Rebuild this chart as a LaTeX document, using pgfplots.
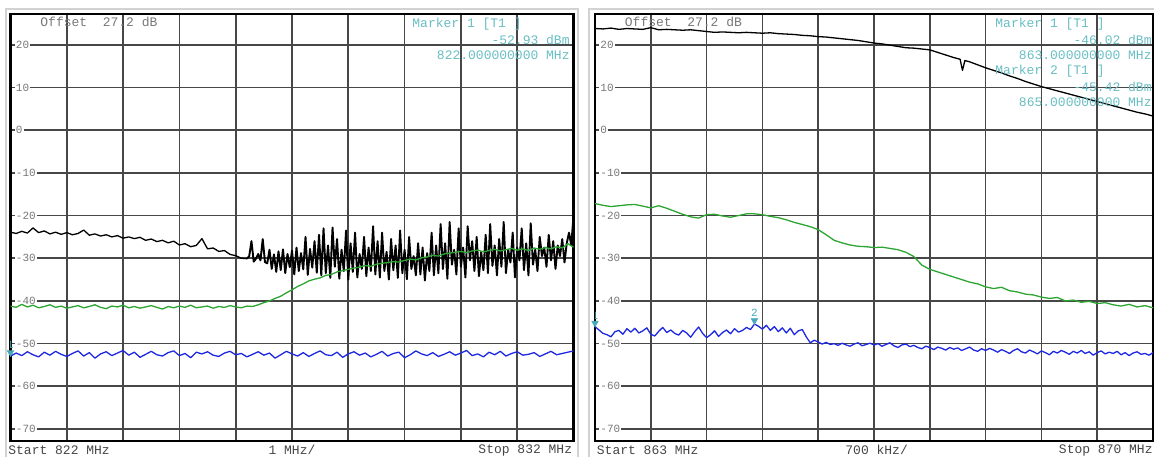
\documentclass[border=0pt]{standalone}
\usepackage{fontspec}
\setmainfont{Liberation Mono}
\usepackage{pgfplots}
\pgfplotsset{compat=1.18}

\definecolor{trgreen}{RGB}{45,165,50}
\definecolor{trblue}{RGB}{30,40,225}
\definecolor{mkteal}{RGB}{70,170,185}
\definecolor{mktext}{RGB}{105,190,195}
\definecolor{lbl}{RGB}{120,120,120}
\definecolor{btm}{RGB}{70,70,70}

\newcommand\scr{\fontsize{6.5}{7}\selectfont}

\pgfplotsset{
  trace/.style={line width=0.65pt, line join=round},
  sa/.style={
    scale only axis, height=213.5pt, anchor=south west,
    ymin=-72.8, ymax=27.2,
    ytick={-70,-60,-50,-40,-30,-20,-10,0,10,20},
    yticklabels={-70,-60,-50,-40,-30,-20,-10,0,10,20},
    ytick pos=left, major tick length=2pt, tick align=inside,
    ytick style={line width=0.5pt, black!70},
    xtick style={draw=none}, xticklabels={},
    grid=major, major grid style={line width=0.85pt, black!72},
    axis line style={line width=1.2pt},
    yticklabel style={anchor=west, xshift=2pt, inner sep=0.5pt, fill=white,
      text=lbl, font=\fontsize{5.5}{6}\selectfont},
  },
}

\begin{document}
\begin{tikzpicture}
% panel frames
\draw[gray!35, line width=1pt] (2.75pt,-2pt) -- (2.75pt,223.5pt) -- (288.75pt,223.5pt) -- (288.75pt,-2pt);
\draw[gray!35, line width=1pt] (294.5pt,-2pt) -- (294.5pt,223.5pt) -- (580pt,223.5pt);

% ---------- 822 - 832 MHz sweep ----------
\begin{axis}[sa, name=L, at={(5.25pt,7.5pt)}, width=281.5pt,
  xmin=822, xmax=832, xtick={822,823,824,825,826,827,828,829,830,831,832}]
% max hold, smooth part
\addplot[black, trace] table[header=false, row sep=\\, x expr=822+0.1*\coordindex, y index=0] {
-23.9\\-24.2\\-23.7\\-24.1\\-22.9\\-24.0\\-23.6\\-24.3\\-23.9\\-24.4\\
-24.0\\-24.5\\-24.2\\-23.4\\-24.6\\-24.3\\-24.8\\-24.5\\-25.0\\-24.7\\
-25.3\\-25.0\\-25.4\\-25.1\\-25.8\\-25.5\\-26.1\\-25.8\\-26.4\\-26.0\\
-26.9\\-26.6\\-27.3\\-27.0\\-25.4\\-27.8\\-27.6\\-28.4\\-28.2\\-29.1\\
-29.4\\-30.0\\-30.1\\
};
% max hold, bursty part
\addplot[black, trace, line width=0.95pt] table[header=false, row sep=\\, x expr=826.2+0.04*\coordindex, y index=0] {
-30.1\\-29.5\\-26.0\\-30.8\\-30.1\\-29.0\\-30.5\\-25.5\\-30.9\\-31.2\\
-28.0\\-32.5\\-29.1\\-33.2\\-28.4\\-32.8\\-27.9\\-33.5\\-29.0\\-32.1\\
-28.2\\-33.8\\-27.5\\-33.0\\-28.8\\-32.6\\-25.0\\-33.9\\-27.8\\-32.2\\
-26.0\\-33.4\\
-24.5\\-34.0\\-23.0\\-33.5\\-27.0\\-34.6\\-22.8\\-32.0\\-25.5\\-34.8\\
-28.0\\-33.0\\-23.5\\-35.0\\-26.5\\-33.2\\-24.0\\-34.5\\-29.0\\-32.5\\
-25.0\\-34.2\\-27.5\\-33.0\\-22.5\\
-33.8\\-26.0\\-34.5\\-24.0\\-33.0\\-28.5\\-35.0\\-25.5\\-32.8\\-27.0\\
-34.6\\-23.5\\-33.5\\-28.0\\-34.9\\-25.0\\-32.5\\-29.5\\-34.0\\-26.5\\
-33.8\\-27.5\\-35.2\\-28.8\\-33.0\\
-24.0\\-34.0\\-27.0\\-33.5\\-22.0\\-32.5\\-26.5\\-34.8\\-21.5\\-31.5\\
-28.0\\-33.8\\-23.0\\-32.0\\-27.5\\-34.5\\-22.5\\-30.5\\-26.0\\-33.0\\
-25.0\\-34.2\\-28.5\\-32.8\\-24.5\\
-33.5\\-22.0\\-31.8\\-27.0\\-34.0\\-25.5\\-32.0\\-21.5\\-33.5\\-28.0\\
-31.0\\-24.0\\-34.5\\-27.5\\-30.5\\-23.0\\-32.8\\-26.5\\-34.0\\-21.8\\
-31.5\\-28.0\\-33.0\\-25.0\\-29.5\\-27.5\\-32.0\\-24.5\\-30.5\\-26.0\\
-32.5\\-27.0\\-29.5\\-25.5\\-31.0\\-26.5\\-24.0\\-27.0\\-20.0\\
};
% average
\addplot[trgreen, trace] table[header=false, row sep=\\, x expr=822+0.1*\coordindex, y index=0] {
-41.2\\-41.5\\-40.8\\-41.4\\-41.0\\-41.6\\-41.3\\-40.9\\-41.5\\-41.2\\
-41.7\\-41.4\\-41.1\\-41.6\\-41.3\\-40.9\\-41.5\\-41.8\\-41.2\\-41.4\\
-41.0\\-41.6\\-41.3\\-41.7\\-41.4\\-41.1\\-41.5\\-41.9\\-41.3\\-41.6\\
-41.2\\-41.5\\-41.0\\-41.6\\-41.4\\-41.2\\-41.7\\-41.3\\-41.5\\-41.1\\
-41.4\\-41.6\\-41.2\\-41.3\\
-40.9\\-40.4\\-40.0\\-39.4\\-38.9\\-38.1\\-37.4\\-36.6\\-36.0\\-35.3\\
-34.9\\-34.6\\-34.0\\-33.8\\-33.2\\-32.9\\-32.6\\-32.3\\-32.1\\-31.7\\
-31.9\\-31.4\\-31.2\\-31.0\\-30.8\\-30.9\\-30.5\\-30.2\\-30.4\\-29.9\\
-29.7\\-29.3\\-29.5\\-29.0\\-28.8\\-28.6\\-28.4\\-28.7\\-28.3\\-28.1\\
-28.5\\-28.2\\-27.9\\-28.3\\-28.0\\-27.7\\-28.1\\-27.8\\-28.2\\-27.6\\
-27.9\\-27.5\\-27.8\\-27.3\\-27.6\\-26.6\\-27.4\\
};
% min hold
\addplot[trblue, trace] table[header=false, row sep=\\, x expr=822+0.1*\coordindex, y index=0] {
-52.93\\-52.2\\-52.8\\-51.9\\-52.6\\-53.1\\-52.0\\-52.7\\-51.8\\-52.5\\
-53.0\\-52.3\\-51.7\\-52.9\\-52.1\\-53.4\\-52.4\\-51.9\\-52.8\\-52.2\\
-51.6\\-52.7\\-52.0\\-53.2\\-52.5\\-51.8\\-52.6\\-52.9\\-52.1\\-51.7\\
-52.8\\-52.3\\-53.3\\-52.0\\-52.4\\-51.9\\-52.7\\-53.0\\-52.2\\-51.8\\
-52.6\\-52.3\\-53.1\\-52.5\\-51.9\\-52.7\\-52.2\\-53.4\\-52.6\\-51.8\\
-52.4\\-52.9\\-52.1\\-53.0\\-52.3\\-51.7\\-52.6\\-52.8\\-52.0\\-53.2\\
-52.4\\-51.9\\-52.7\\-52.2\\-53.1\\-52.5\\-51.8\\-52.9\\-52.3\\-52.0\\
-53.3\\-52.6\\-51.7\\-52.4\\-52.8\\-52.1\\-53.0\\-52.5\\-51.9\\-52.7\\
-52.2\\-51.6\\-52.8\\-52.4\\-53.1\\-52.0\\-52.6\\-51.8\\-52.9\\-52.3\\
-51.9\\-52.7\\-52.5\\-52.1\\-53.0\\-52.4\\-51.8\\-52.6\\-52.3\\-52.0\\
-51.7\\
};
% marker 1
\addplot[only marks, mark=triangle*, mark size=1.8pt, mkteal,
  mark options={yshift=1.8pt, rotate=180}] coordinates {(822,-52.93)}
  node[above, yshift=3pt, text=mkteal, inner sep=0.5pt, font=\fontsize{5.5}{6}\selectfont] {1};
\end{axis}

% ---------- 863 - 870 MHz sweep ----------
\begin{axis}[sa, name=R, at={(297.5pt,7.5pt)}, width=279pt,
  xmin=863, xmax=870,
  xtick={863,863.7,864.4,865.1,865.8,866.5,867.2,867.9,868.6,869.3,870}]
% max hold
\addplot[black, trace] coordinates {
(863.0,23.8) (863.1,23.7) (863.2,23.9) (863.3,23.6) (863.4,23.8) (863.5,23.7) (863.6,23.6) (863.7,24.0) (863.8,23.5) (863.9,23.6)
(864.0,23.5) (864.1,23.4) (864.2,23.5) (864.3,23.3) (864.4,23.1) (864.5,22.9) (864.6,23.0) (864.7,22.9) (864.8,22.8) (864.9,22.9)
(865.0,22.8) (865.1,22.7) (865.2,22.8) (865.3,22.6) (865.4,22.5) (865.5,22.4) (865.6,22.2) (865.7,22.1) (865.8,21.9) (865.9,21.8)
(866.0,21.6) (866.1,21.4) (866.2,21.2) (866.3,21.0) (866.4,20.7) (866.5,20.4) (866.6,20.2) (866.7,19.9) (866.8,19.6) (866.9,19.3)
(867.0,19.2) (867.1,19.0) (867.2,18.8) (867.3,18.2) (867.4,17.6) (867.5,17.0) (867.58,16.6) (867.61,14.0) (867.64,16.3) (867.7,16.0)
(867.8,15.3) (867.9,14.6) (868.0,14.0) (868.1,13.4) (868.2,12.7) (868.3,12.1) (868.4,11.4) (868.5,10.8) (868.6,10.2) (868.7,9.7)
(868.8,9.2) (868.9,8.7) (869.0,8.2) (869.1,7.7) (869.2,7.2) (869.3,6.7) (869.4,6.2) (869.5,5.7) (869.6,5.2) (869.7,4.7)
(869.8,4.2) (869.9,3.8) (870.0,3.3)
};
% average
\addplot[trgreen, trace] table[header=false, row sep=\\, x expr=863+0.1*\coordindex, y index=0] {
-17.2\\-17.6\\-17.9\\-17.7\\-17.5\\-17.4\\-17.8\\-18.2\\-17.7\\-18.3\\
-19.0\\-19.7\\-20.3\\-20.6\\-19.8\\-19.7\\-20.1\\-20.4\\-20.0\\-19.6\\
-19.6\\-19.8\\-20.2\\-20.5\\-21.0\\-21.6\\-22.1\\-22.6\\-23.3\\-24.5\\
-25.8\\-26.4\\-26.9\\-27.2\\-27.3\\-27.5\\-27.4\\-27.7\\-28.0\\-28.6\\
-29.6\\-31.6\\-32.6\\-33.2\\-33.8\\-34.4\\-35.0\\-35.6\\-36.0\\-36.7\\
-37.1\\-36.8\\-37.6\\-37.9\\-38.4\\-38.6\\-39.1\\-39.4\\-39.2\\-40.0\\
-39.8\\-40.3\\-40.1\\-40.6\\-40.4\\-40.9\\-41.2\\-40.8\\-41.4\\-41.1\\
-41.6\\
};
% min hold
\addplot[trblue, trace] table[header=false, row sep=\\, x expr=863+0.05*\coordindex, y index=0] {
-46.02\\-46.8\\-47.6\\-47.9\\-48.4\\-47.2\\-46.9\\-47.8\\-46.5\\-47.3\\
-46.4\\-47.5\\-47.0\\-46.3\\-47.8\\-48.2\\-47.1\\-46.2\\-47.4\\-46.8\\
-47.6\\-48.0\\-46.9\\-47.5\\-48.5\\-47.2\\-46.1\\-47.6\\-48.6\\-47.9\\
-47.0\\-48.3\\-47.4\\-46.8\\-47.7\\-46.5\\-47.3\\-46.9\\-46.2\\-46.7\\
-45.42\\-45.9\\-46.6\\-45.7\\-46.9\\-46.0\\-47.2\\-46.3\\-47.5\\-46.4\\
-47.9\\-47.0\\-46.7\\-48.4\\-49.8\\-49.2\\-49.6\\-50.1\\-49.7\\-50.2\\
-50.0\\-50.4\\-49.9\\-50.3\\-50.6\\-50.1\\-49.8\\-50.5\\-50.2\\-49.9\\
-50.3\\-50.0\\-50.6\\-50.2\\-49.8\\-50.5\\-50.9\\-50.3\\-50.1\\-50.7\\
-50.4\\-50.9\\-51.2\\-50.6\\-50.9\\-51.4\\-50.8\\-51.1\\-51.5\\-50.9\\
-51.3\\-51.0\\-51.6\\-51.2\\-50.8\\-51.5\\-51.8\\-51.2\\-51.6\\-51.1\\
-51.5\\-52.0\\-51.4\\-51.8\\-52.3\\-51.6\\-51.2\\-51.9\\-52.2\\-51.5\\
-51.9\\-52.4\\-51.7\\-52.1\\-52.6\\-51.8\\-52.2\\-51.6\\-52.0\\-52.5\\
-51.8\\-52.2\\-51.6\\-52.3\\-51.9\\-52.7\\-52.1\\-51.7\\-52.4\\-52.0\\
-52.3\\-51.8\\-52.6\\-52.1\\-52.8\\-52.2\\-51.9\\-52.5\\-52.3\\-52.7\\
-52.1\\
};
% markers 1 and 2
\addplot[only marks, mark=triangle*, mark size=1.8pt, mkteal,
  mark options={yshift=1.8pt, rotate=180}] coordinates {(863,-46.02)}
  node[above, yshift=3pt, text=mkteal, inner sep=0.5pt, font=\fontsize{5.5}{6}\selectfont] {1};
\addplot[only marks, mark=triangle*, mark size=1.8pt, mkteal,
  mark options={yshift=1.8pt, rotate=180}] coordinates {(865,-45.42)}
  node[above, yshift=3pt, text=mkteal, inner sep=0.5pt, font=\fontsize{5.5}{6}\selectfont] {2};
\end{axis}

% ---------- screen texts ----------
\begin{scope}[every node/.style={inner sep=0pt, font=\scr}]
\node[anchor=west, text=lbl] at ([xshift=14.75pt, yshift=-4pt]L.north west) {Offset~ 27.2 dB};
\node[anchor=west, text=mktext] at ([xshift=200.75pt, yshift=-5pt]L.north west) {Marker 1 [T1 ]};
\node[anchor=east, text=mktext] at ([xshift=-1.75pt, yshift=-13pt]L.north east) {-52.93 dBm};
\node[anchor=east, text=mktext] at ([xshift=-1.75pt, yshift=-20.5pt]L.north east) {822.000000000 MHz};
\node[anchor=west, text=btm] at ([xshift=-1.25pt, yshift=-4.5pt]L.south west) {Start 822 MHz};
\node[text=btm] at ([yshift=-4.5pt]L.south) {1 MHz/};
\node[anchor=east, text=btm] at ([xshift=-0.5pt, yshift=-4.5pt]L.south east) {Stop 832 MHz};

\node[anchor=west, text=lbl] at ([xshift=14.75pt, yshift=-4pt]R.north west) {Offset~ 27.2 dB};
\node[anchor=west, text=mktext] at ([xshift=-79pt, yshift=-5pt]R.north east) {Marker 1 [T1 ]};
\node[anchor=east, text=mktext] at ([xshift=-0.5pt, yshift=-13pt]R.north east) {-46.02 dBm};
\node[anchor=east, text=mktext] at ([xshift=-0.5pt, yshift=-20.5pt]R.north east) {863.000000000 MHz};
\node[anchor=west, text=mktext] at ([xshift=-79pt, yshift=-28.5pt]R.north east) {Marker 2 [T1 ]};
\node[anchor=east, text=mktext] at ([xshift=-0.5pt, yshift=-36.5pt]R.north east) {-45.42 dBm};
\node[anchor=east, text=mktext] at ([xshift=-0.5pt, yshift=-44pt]R.north east) {865.000000000 MHz};
\node[anchor=west, text=btm] at ([xshift=0.75pt, yshift=-4.5pt]R.south west) {Start 863 MHz};
\node[text=btm] at ([xshift=1.3pt, yshift=-4.5pt]R.south) {700 kHz/};
\node[anchor=east, text=btm] at ([yshift=-4.5pt]R.south east) {Stop 870 MHz};
\end{scope}

\pgfresetboundingbox
\useasboundingbox (0,0) rectangle (577pt,228pt);
\end{tikzpicture}
\end{document}
